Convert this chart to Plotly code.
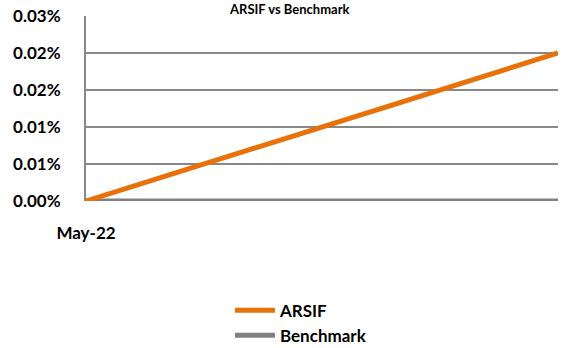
import plotly.graph_objects as go

dates = ["May-22", "Jun-22"]
arsif = [0.0, 0.0002]
benchmark = [0.0, 0.0]
y_ticks = [0.0, 0.00005, 0.0001, 0.00015, 0.0002, 0.00025]
y_labels = ["0.00%", "0.01%", "0.01%", "0.02%", "0.02%", "0.03%"]

FONT = "Lato"

fig = go.Figure()
fig.add_trace(go.Scatter(x=[0, 1], y=benchmark, mode="lines", name="Benchmark",
                         legendgroup="b", legendrank=2, line=dict(color="#808080", width=5)))
fig.add_trace(go.Scatter(x=[0, 1], y=arsif, mode="lines", name="ARSIF",
                         legendgroup="a", legendrank=1, line=dict(color="#E8710A", width=5)))

fig.update_layout(
    width=566, height=348,
    margin=dict(l=86, r=8, t=16, b=147, autoexpand=False),
    paper_bgcolor="white", plot_bgcolor="white",
    font=dict(family=FONT, size=17, color="#000000"),
    showlegend=True,
    legend=dict(x=0.305, y=-0.495, xanchor="left", yanchor="top",
                orientation="v", traceorder="grouped",
                font=dict(family=FONT, size=17, color="#000", weight="bold"),
                itemwidth=40, tracegroupgap=0, bgcolor="rgba(0,0,0,0)"),
    annotations=[dict(text="<b>ARSIF vs Benchmark</b>", x=(289 - 86) / 472, xref="paper",
                      y=1 + 16 / 185, yref="paper", yanchor="top", showarrow=False,
                      borderpad=0, font=dict(family=FONT, size=13, color="#000"))],
)

fig.update_xaxes(range=[0, 1], tickvals=[0], ticktext=[dates[0]], showgrid=False,
                 zeroline=False, showline=False, ticks="",
                 tickfont=dict(family=FONT, size=17, weight="bold"), ticklabelstandoff=20)
fig.update_yaxes(range=[0, 0.00025], tickvals=y_ticks, ticktext=y_labels,
                 showgrid=True, gridcolor="#888888", gridwidth=2, zeroline=False,
                 showline=True, linecolor="#888888", linewidth=2, ticks="",
                 tickfont=dict(family=FONT, size=17, weight="bold"), ticklabelstandoff=20)

fig.write_html("out.html")
